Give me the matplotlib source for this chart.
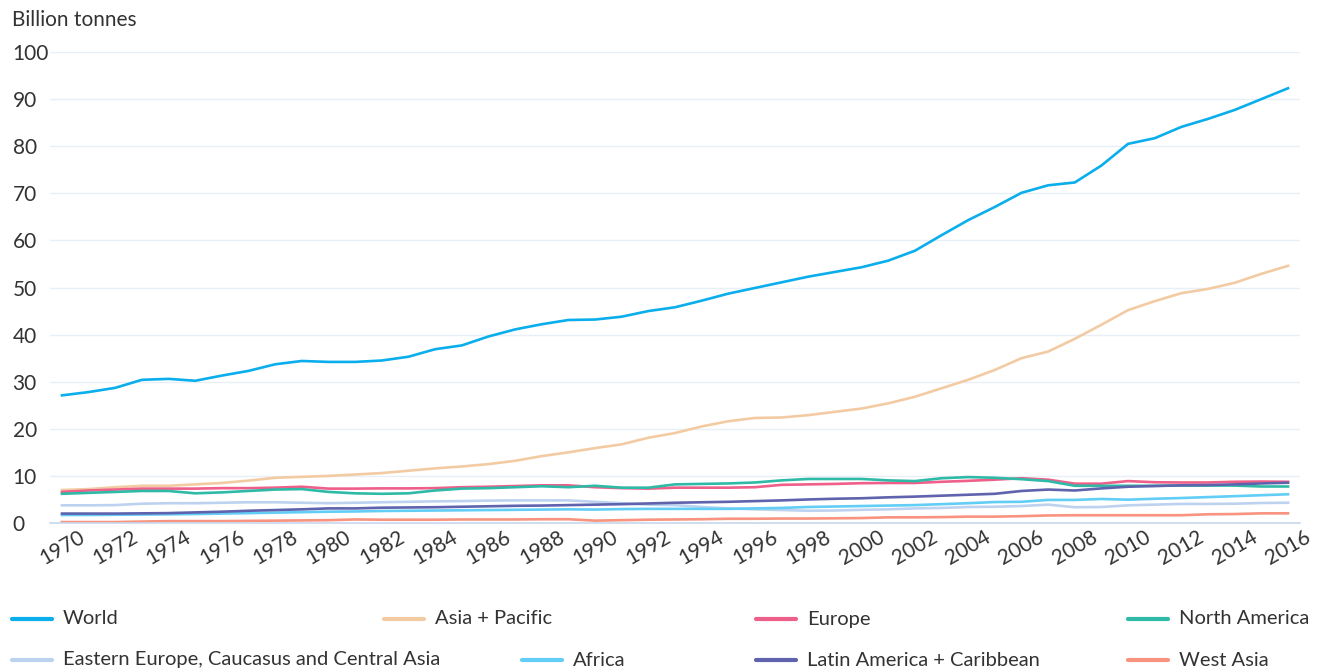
import matplotlib
matplotlib.use('Agg')
import matplotlib.pyplot as plt
from matplotlib.lines import Line2D
import numpy as np

plt.rcParams['font.family'] = ['Lato', 'DejaVu Sans']

years = list(range(1970, 2017))

world = [27.1, 27.8, 28.7, 30.4, 30.6, 30.2, 31.3, 32.3, 33.7, 34.4,
         34.2, 34.2, 34.5, 35.3, 36.9, 37.7, 39.6, 41.1, 42.2, 43.1,
         43.2, 43.8, 45.0, 45.8, 47.2, 48.7, 49.9, 51.1, 52.3, 53.3,
         54.3, 55.7, 57.8, 61.1, 64.3, 67.1, 70.1, 71.7, 72.3, 75.9,
         80.5, 81.7, 84.1, 85.8, 87.7, 90.0, 92.3]
asia_pacific = [7.0, 7.2, 7.6, 7.9, 7.9, 8.2, 8.5, 9.0, 9.6, 9.8,
                10.0, 10.3, 10.6, 11.1, 11.6, 12.0, 12.5, 13.2, 14.2, 15.0,
                15.9, 16.7, 18.1, 19.1, 20.5, 21.6, 22.3, 22.4, 22.9, 23.6,
                24.3, 25.4, 26.8, 28.6, 30.4, 32.5, 35.0, 36.4, 39.1, 42.1,
                45.2, 47.1, 48.8, 49.7, 51.0, 52.9, 54.6]
europe = [6.6, 6.9, 7.1, 7.3, 7.3, 7.3, 7.4, 7.4, 7.5, 7.7,
          7.3, 7.3, 7.35, 7.35, 7.4, 7.6, 7.7, 7.85, 8.0, 8.0,
          7.6, 7.4, 7.3, 7.5, 7.5, 7.5, 7.6, 8.1, 8.2, 8.3,
          8.45, 8.5, 8.5, 8.75, 8.95, 9.2, 9.5, 9.2, 8.35, 8.35,
          8.9, 8.65, 8.6, 8.6, 8.75, 8.8, 8.75]
north_america = [6.2, 6.4, 6.6, 6.8, 6.8, 6.3, 6.5, 6.8, 7.1, 7.2,
                 6.6, 6.3, 6.2, 6.3, 6.9, 7.3, 7.4, 7.6, 7.8, 7.6,
                 7.9, 7.5, 7.5, 8.2, 8.3, 8.4, 8.6, 9.05, 9.35, 9.35,
                 9.35, 9.05, 8.9, 9.5, 9.75, 9.6, 9.3, 8.9, 7.9, 7.9,
                 7.9, 7.9, 7.95, 7.95, 7.95, 7.75, 7.75]
eastern_europe = [3.75, 3.75, 3.8, 4.1, 4.2, 4.2, 4.3, 4.4, 4.4, 4.3,
                  4.2, 4.3, 4.4, 4.5, 4.6, 4.65, 4.75, 4.8, 4.8, 4.8,
                  4.5, 4.2, 3.9, 3.8, 3.4, 3.1, 2.9, 2.75, 2.6, 2.65,
                  2.8, 2.9, 3.1, 3.2, 3.4, 3.45, 3.6, 3.9, 3.35, 3.4,
                  3.75, 3.9, 4.05, 4.05, 4.1, 4.25, 4.3]
africa = [1.7, 1.7, 1.75, 1.8, 1.85, 1.9, 2.0, 2.1, 2.2, 2.3,
          2.4, 2.45, 2.55, 2.6, 2.65, 2.7, 2.75, 2.8, 2.85, 2.9,
          2.85, 2.95, 3.0, 3.0, 3.0, 3.0, 3.1, 3.2, 3.4, 3.5,
          3.6, 3.7, 3.8, 4.0, 4.2, 4.45, 4.5, 4.9, 4.9, 5.1,
          4.95, 5.15, 5.3, 5.5, 5.7, 5.9, 6.1]
latin_america = [2.0, 2.0, 2.0, 2.05, 2.1, 2.25, 2.4, 2.6, 2.75, 2.9,
                 3.1, 3.1, 3.25, 3.3, 3.35, 3.45, 3.55, 3.65, 3.7, 3.8,
                 3.9, 4.0, 4.15, 4.3, 4.4, 4.5, 4.65, 4.8, 5.0, 5.15,
                 5.25, 5.45, 5.6, 5.8, 6.0, 6.2, 6.8, 7.1, 6.9, 7.35,
                 7.7, 7.85, 8.0, 8.05, 8.2, 8.4, 8.55]
west_asia = [0.2, 0.2, 0.2, 0.3, 0.4, 0.4, 0.4, 0.45, 0.5, 0.55,
             0.6, 0.75, 0.7, 0.7, 0.7, 0.75, 0.75, 0.75, 0.8, 0.8,
             0.5, 0.6, 0.7, 0.75, 0.8, 0.9, 0.9, 0.95, 0.95, 1.0,
             1.05, 1.2, 1.2, 1.25, 1.35, 1.35, 1.45, 1.6, 1.65, 1.65,
             1.65, 1.65, 1.65, 1.85, 1.9, 2.05, 2.05]

names = ['World', 'Asia + Pacific', 'Europe', 'North America',
         'Eastern Europe, Caucasus and Central Asia', 'Africa',
         'Latin America + Caribbean', 'West Asia']
series = [world, asia_pacific, europe, north_america,
          eastern_europe, africa, latin_america, west_asia]
colors = ['#0aaeec', '#f3cba3', '#ee5f8a', '#2fbaa7',
          '#bdd2ef', '#62cdf5', '#5f63ad', '#f7937f']

W, H = 1318, 672
FS = 15
fig = plt.figure(figsize=(W / 100, H / 100), dpi=100)
ax = fig.add_axes([50 / W, 1 - 523 / H, 1250 / W, 471 / H])

for vals, c in zip(series, colors):
    ax.plot(years, vals, color=c, lw=1.9, solid_joinstyle='round')

ax.set_xlim(1969.55, 2016.45)
ax.set_ylim(0, 100)
ax.set_yticks(np.arange(0, 101, 10))
ax.grid(axis='y', color='#e9eff7', lw=1.0)
ax.set_axisbelow(True)
for s in ['top', 'right', 'left']:
    ax.spines[s].set_visible(False)
ax.spines['bottom'].set_color('#c8d8ee')
ax.spines['bottom'].set_linewidth(1.2)

ax.tick_params(axis='y', length=0, pad=27, labelsize=FS, labelcolor='#333333')
for lab in ax.get_yticklabels():
    lab.set_horizontalalignment('left')

ax.set_xticks(years[::2])
ax.set_xticklabels([str(y) for y in years[::2]], rotation=30, ha='center', va='top')
ax.tick_params(axis='x', length=0, pad=3, labelsize=FS, labelcolor='#333333')

fig.text(12 / W, 1 - 20 / H, 'Billion tonnes', fontsize=FS, color='#333333',
         ha='left', va='center')

# legend, 4 columns x 2 rows (second row's 2nd item sits further right)
legend_x = [12, 384, 756, 1128, 12, 522, 756, 1128]
for i, (name, c) in enumerate(zip(names, colors)):
    x0 = legend_x[i]
    y0 = 619 + 41 * (i // 4)
    fig.add_artist(Line2D([x0 / W, (x0 + 40) / W], [1 - y0 / H, 1 - y0 / H],
                          transform=fig.transFigure, color=c, lw=3,
                          solid_capstyle='round'))
    fig.text((x0 + 51) / W, 1 - y0 / H, name, fontsize=14.5, color='#333333',
             ha='left', va='center')

fig.savefig('out.png', dpi=100)
